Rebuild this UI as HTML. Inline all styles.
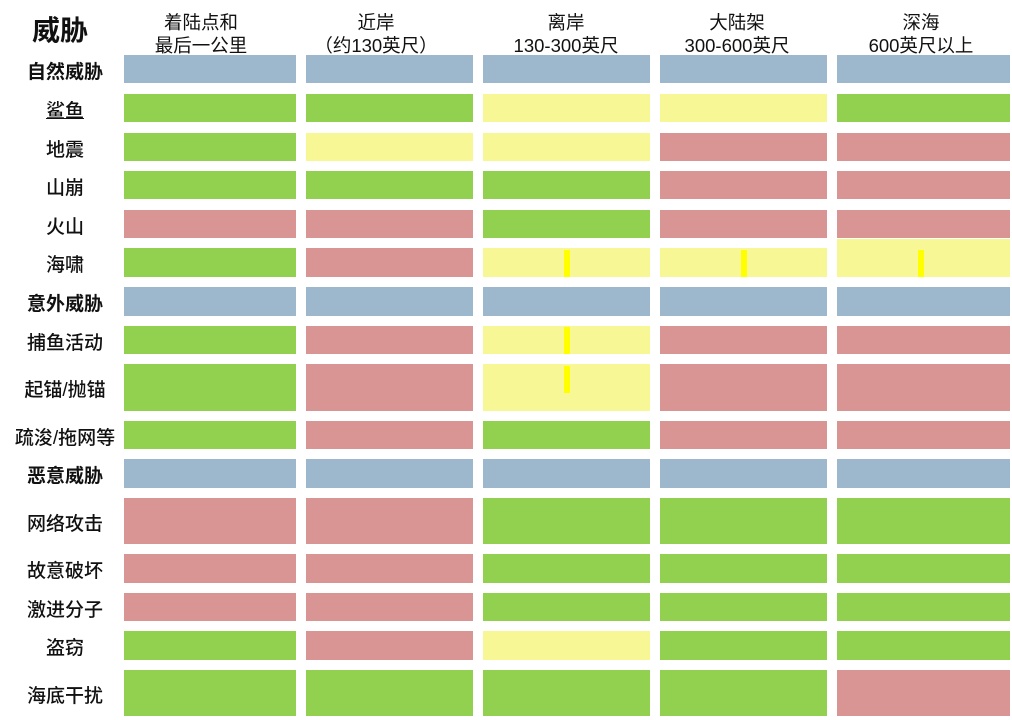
<!DOCTYPE html>
<html><head><meta charset="utf-8"><style>
body{margin:0;width:1012px;height:720px;background:#fff;position:relative;overflow:hidden;font-family:"Liberation Sans","Noto Sans CJK SC",sans-serif;color:#111}
.c{position:absolute}
.B{background:#9db8cc}.G{background:#92d050}.Y{background:#f8f796}.R{background:#d99594}
.t{position:absolute;background:#ffff00;width:6px}
.l{position:absolute;left:0;width:130px;display:flex;align-items:center;justify-content:center;font-size:19px;font-weight:500;white-space:nowrap}
.b{font-weight:bold}
.h{position:absolute;top:11px;width:200px;text-align:center;font-size:18.5px;line-height:23px;white-space:nowrap}
</style></head><body>
<div style="position:absolute;left:20px;top:13px;width:80px;text-align:center;font-size:28px;font-weight:bold;line-height:36px">威胁</div>
<div class="h" style="left:101px">着陆点和<br>最后一公里</div>
<div class="h" style="left:276px">近岸<br>（约130英尺）</div>
<div class="h" style="left:466px">离岸<br>130-300英尺</div>
<div class="h" style="left:637px">大陆架<br>300-600英尺</div>
<div class="h" style="left:821px">深海<br>600英尺以上</div>
<div id="g"></div>
<script>
var cols=[[124,296],[306,473],[483,650],[660,827],[837,1010]];
var rows=[
["自然威胁",55,83,"BBBBB",1],
["鲨鱼",94,122,"GGYYG",0,1],
["地震",133,161,"GYYRR"],
["山崩",171,199,"GGGRR"],
["火山",210,238,"RRGRR"],
["海啸",248,277,"GRYYY"],
["意外威胁",287,316,"BBBBB",1],
["捕鱼活动",326,354,"GRYRR"],
["起锚/抛锚",364,411,"GRYRR"],
["疏浚/拖网等",421,449,"GRGRR"],
["恶意威胁",459,488,"BBBBB",1],
["网络攻击",498,544,"RRGGG"],
["故意破坏",554,583,"RRGGG"],
["激进分子",593,621,"RRGGG"],
["盗窃",631,660,"GRYGG"],
["海底干扰",670,716,"GGGGR"]];
var h="";
rows.forEach(function(r){
 var lab=r[0];if(r[5])lab='<span style="text-decoration:underline">'+lab+'</span>';
 h+='<div class="l'+(r[4]?' b':'')+'" style="top:'+(r[1]+1)+'px;height:'+(r[2]-r[1])+'px">'+lab+'</div>';
 for(var i=0;i<5;i++){var top=r[1];if(r[0]=="海啸"&&i==4)top=239;
  h+='<div class="c '+r[3][i]+'" style="left:'+cols[i][0]+'px;width:'+(cols[i][1]-cols[i][0])+'px;top:'+top+'px;height:'+(r[2]-top)+'px"></div>';}
});
var ticks=[[564,250,277],[741,250,277],[918,250,277],[564,327,354],[564,366,393]];
ticks.forEach(function(t){h+='<div class="t" style="left:'+t[0]+'px;top:'+t[1]+'px;height:'+(t[2]-t[1])+'px"></div>';});
document.getElementById("g").innerHTML=h;
</script>
</body></html>
